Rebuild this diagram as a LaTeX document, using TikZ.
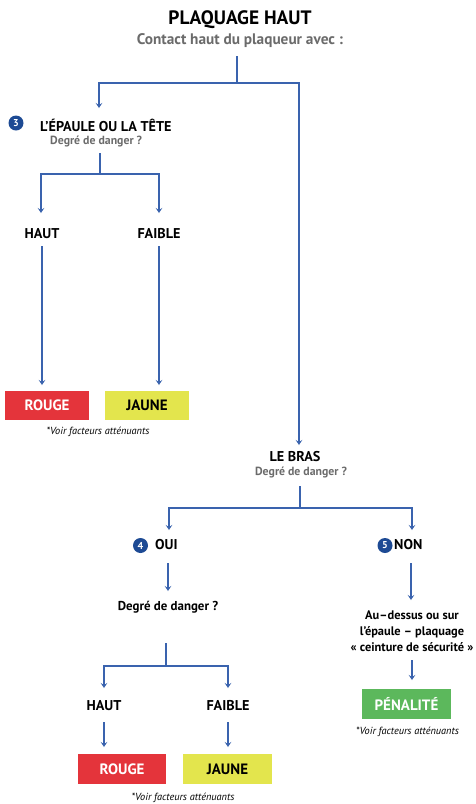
\documentclass[tikz,border=0pt]{standalone}
\usepackage{fontspec}
\setmainfont{PT Sans}
\usetikzlibrary{arrows.meta}
\definecolor{lineblue}{HTML}{3A63AE}
\definecolor{badgeblue}{HTML}{1D4A94}
\definecolor{txtgray}{HTML}{6B6B6B}
\definecolor{redbox}{HTML}{E4343B}
\definecolor{yellowbox}{HTML}{E3E54D}
\definecolor{greenbox}{HTML}{5CB85C}
\tikzset{
  conn/.style={draw=lineblue, line width=1.1pt},
  arr/.style={conn, -{Stealth[length=5pt,width=6.5pt,inset=2pt]}},
  title/.style={font=\bfseries\fontsize{19.4}{22}\selectfont, inner sep=0pt},
  subt/.style={font=\bfseries\fontsize{15.3}{18}\selectfont, text=txtgray, inner sep=0pt},
  head/.style={font=\bfseries\fontsize{14.2}{16}\selectfont, inner sep=0pt},
  gray/.style={font=\bfseries\fontsize{11.8}{13}\selectfont, text=txtgray, inner sep=0pt},
  black/.style={font=\bfseries\fontsize{12.9}{16}\selectfont, inner sep=0pt, align=center},
  blacksm/.style={font=\bfseries\fontsize{12.4}{16}\selectfont, inner sep=0pt, align=center},
  note/.style={font=\itshape\fontsize{10.3}{12}\selectfont, inner sep=0pt},
  badge/.style={circle, fill=badgeblue, text=white, minimum size=15pt, inner sep=0pt, font=\bfseries\fontsize{10}{10}\selectfont},
  colbox/.style={minimum width=84pt, minimum height=29pt, inner sep=0pt, font=\bfseries\fontsize{15}{17}\selectfont},
}
\begin{document}
\begin{tikzpicture}[x=1pt,y=-1pt]
\useasboundingbox[fill=white] (0,0) rectangle (476,804);

% Title
\node[title] (title) at (240,20) {PLAQUAGE HAUT};
\node[subt] (sub) at (240,41) {Contact haut du plaqueur avec :};

% Top split
\coordinate (j0) at (237,83);
\coordinate (s0) at (237,56);
\coordinate (a3) at (99,108);
\coordinate (aB) at (299,445);
\draw[conn] (s0) -- (j0);
\draw[arr] (j0) -| (a3);
\draw[arr] (j0) -| (aB);

% Left branch: shoulder / head
\node[badge] (b3) at (16,123) {3};
\node[head, anchor=west] (epaule) at (40,125) {L’ÉPAULE OU LA TÊTE};
\node[gray, anchor=west] (deg1) at (50,141) {Degré de danger ?};
\coordinate (s1) at (100,153);
\coordinate (j1) at (100,174);
\coordinate (a1L) at (41,213);
\coordinate (a1R) at (159,213);
\draw[conn] (s1) -- (j1);
\draw[arr] (j1) -| (a1L);
\draw[arr] (j1) -| (a1R);

\node[head] (haut1) at (42,234) {HAUT};
\node[head] (faible1) at (159,234) {FAIBLE};
\draw[arr] ([yshift=-12pt]haut1.center) -- ([yshift=-151pt]haut1.center);
\draw[arr] ([yshift=-12pt]faible1.center) -- ([yshift=-151pt]faible1.center);

\node[colbox, fill=redbox, text=white] (rouge1) at (47,405.5) {ROUGE};
\node[colbox, fill=yellowbox, text=black] (jaune1) at (147,405.5) {JAUNE};
\node[note] (note1) at (98,432) {*Voir facteurs atténuants};

% Right branch: arm
\node[head] (bras) at (295,457) {LE BRAS};
\node[gray] (deg2) at (301,472) {Degré de danger ?};
\coordinate (s2) at (300,486);
\coordinate (j2) at (300,508);
\coordinate (a2L) at (169,530);
\coordinate (a2R) at (412,530);
\draw[conn] (s2) -- (j2);
\draw[arr] (j2) -| (a2L);
\draw[arr] (j2) -| (a2R);

\node[badge] (b4) at (140.5,545.5) {4};
\node[head, anchor=west] (oui) at (155,545) {OUI};
\node[badge] (b5) at (385,545.5) {5};
\node[head, anchor=west] (non) at (394,545) {NON};

% OUI branch
\coordinate (s4) at (168,563);
\coordinate (a4) at (168,591);
\draw[arr] (s4) -- (a4);
\node[black] (deg3) at (168,607) {Degré de danger ?};
\coordinate (s5) at (166,643);
\coordinate (j3) at (166,666);
\coordinate (a5L) at (104,688);
\coordinate (a5R) at (228,688);
\draw[conn] (s5) -- (j3);
\draw[arr] (j3) -| (a5L);
\draw[arr] (j3) -| (a5R);

\node[head] (haut2) at (104,706) {HAUT};
\node[head] (faible2) at (228,706) {FAIBLE};
\draw[arr] ([yshift=-16pt]haut2.center) -- ([yshift=-41pt]haut2.center);
\draw[arr] ([yshift=-16pt]faible2.center) -- ([yshift=-41pt]faible2.center);

\node[colbox, fill=redbox, text=white, minimum width=88pt, minimum height=30pt] (rouge2) at (122,769) {ROUGE};
\node[colbox, fill=yellowbox, text=black, minimum width=89pt, minimum height=30pt] (jaune2) at (227.5,769) {JAUNE};
\node[note] (note2) at (183,798) {*Voir facteurs atténuants};

% NON branch
\coordinate (s6) at (411,563);
\coordinate (a6) at (411,600);
\draw[arr] (s6) -- (a6);
\node[blacksm] (secu) at (412,631) {Au–dessus ou sur\\l’épaule – plaquage\\« ceinture de sécurité »};
\coordinate (s7) at (412,660);
\coordinate (a7) at (412,680);
\draw[arr] (s7) -- (a7);
\node[colbox, fill=greenbox, text=white, minimum width=89pt, minimum height=30pt] (pen) at (406.5,704) {PÉNALITÉ};
\node[note] (note3) at (407.5,732) {*Voir facteurs atténuants};
\end{tikzpicture}
\end{document}
